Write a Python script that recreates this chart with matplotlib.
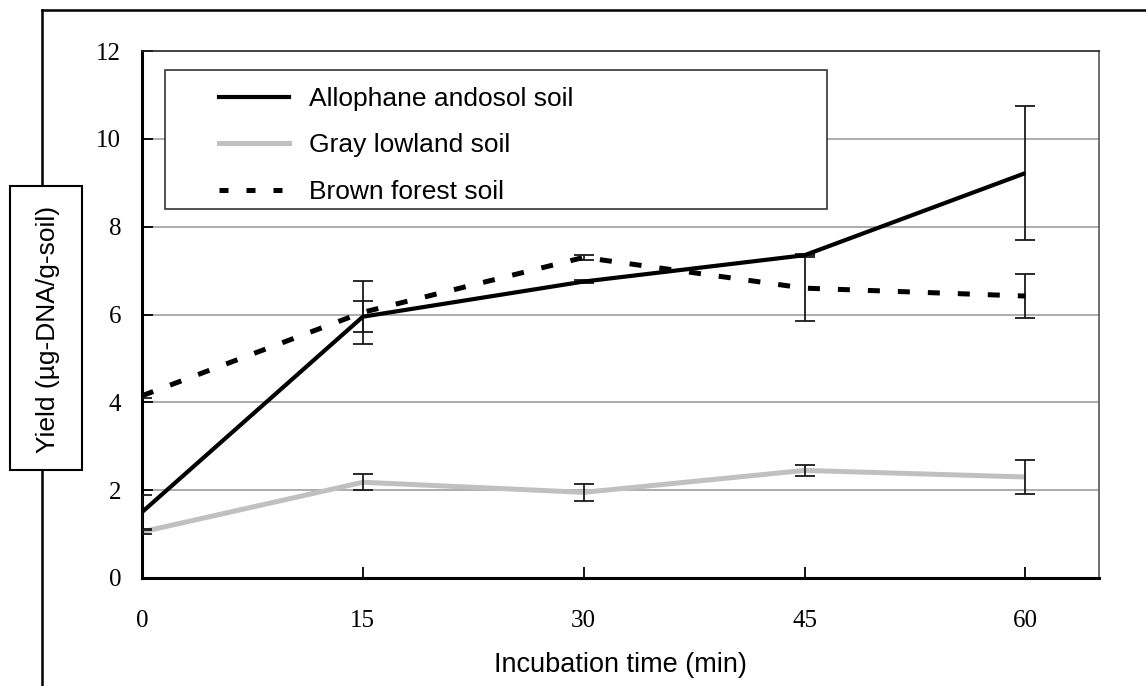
import matplotlib
matplotlib.use("Agg")
import matplotlib.pyplot as plt
from matplotlib.lines import Line2D
from matplotlib.patches import Rectangle

# incubation time (min) and DNA yield (ug-DNA/g-soil)
time_min = [0, 15, 30, 45, 60]

allophane = [1.5, 5.95, 6.75, 7.35, 9.22]
allophane_err = [0.38, 0.35, 0.03, 0.03, 1.53]

gray_lowland = [1.05, 2.18, 1.95, 2.45, 2.3]
gray_lowland_err = [0.05, 0.18, 0.2, 0.12, 0.38]

brown_forest = [4.15, 6.05, 7.3, 6.6, 6.42]
brown_forest_err = [0.05, 0.72, 0.05, 0.75, 0.51]

labels = ["Allophane andosol soil", "Gray lowland soil", "Brown forest soil"]
x_ticks = [0, 15, 30, 45, 60]
y_ticks = [0, 2, 4, 6, 8, 10, 12]

W, H = 1146, 686
fig = plt.figure(figsize=(W / 100, H / 100), dpi=100)
ax = fig.add_axes([142 / W, 1 - 578 / H, (1099 - 142) / W, (578 - 51) / H])

sans = "Liberation Sans"
serif = "Liberation Serif"

# horizontal grid
for y in y_ticks[1:-1]:
    ax.axhline(y, color="#a6a6a6", lw=1.3, zorder=1)

# error bars
for vals, errs in [(allophane, allophane_err), (gray_lowland, gray_lowland_err),
                   (brown_forest, brown_forest_err)]:
    ax.errorbar(time_min, vals, yerr=errs, fmt="none", ecolor="#1a1a1a",
                elinewidth=1.3, capsize=7, capthick=1.3, zorder=3)

l1, = ax.plot(time_min, allophane, color="black", lw=3.0, zorder=4,
              solid_capstyle="butt")
l2, = ax.plot(time_min, gray_lowland, color="#c0c0c0", lw=3.6, zorder=2,
              solid_capstyle="butt")
l3, = ax.plot(time_min, brown_forest, color="black", lw=3.6, zorder=4,
              dashes=(2.4, 3.6))

ax.set_xlim(0, 65)
ax.set_ylim(0, 12)
ax.set_xticks(x_ticks)
ax.set_yticks(y_ticks)
ax.tick_params(axis="both", direction="in", length=8, width=1.3, color="black",
               labelsize=18)
ax.tick_params(axis="x", pad=23)
ax.tick_params(axis="y", pad=15)
for lab in ax.get_xticklabels() + ax.get_yticklabels():
    lab.set_fontfamily(serif)

ax.spines["left"].set_linewidth(2.2)
ax.spines["bottom"].set_linewidth(2.2)
ax.spines["top"].set_linewidth(1.2)
ax.spines["top"].set_color("#222222")
ax.spines["right"].set_linewidth(1.2)
ax.spines["right"].set_color("#555555")

ax.set_xlabel("Incubation time (min)", fontfamily=sans, fontsize=19.5)
ax.xaxis.set_label_coords(0.5, -0.14)

# legend box
ax.add_patch(Rectangle((23 / 957, 1 - (209 - 51) / 527), (827 - 165) / 957,
                       (209 - 70) / 527, transform=ax.transAxes,
                       facecolor="white", edgecolor="#333333", lw=1.2, zorder=5))
handles = [Line2D([], [], color="black", lw=3.0),
           Line2D([], [], color="#c0c0c0", lw=3.6),
           Line2D([], [], color="black", lw=3.6, dashes=(1.8, 3.6))]
leg = ax.legend(handles, labels, loc="upper left",
                bbox_to_anchor=(77 / 957, 1 - (87 - 51) / 527), frameon=False,
                prop={"family": sans, "size": 19}, handlelength=2.65,
                handletextpad=0.75, labelspacing=0.85, borderpad=0,
                borderaxespad=0)
leg.set_zorder(6)

# outer frame lines (cropped box)
fig.add_artist(Line2D([42 / W, 1], [1 - 10 / H, 1 - 10 / H], color="black",
                      lw=1.8, transform=fig.transFigure))
fig.add_artist(Line2D([42 / W, 42 / W], [0, 1 - 10 / H], color="black",
                      lw=1.8, transform=fig.transFigure))

# boxed y label
fig.add_artist(Rectangle((10 / W, 1 - 470 / H), 72 / W, (470 - 186) / H,
                         transform=fig.transFigure, facecolor="white",
                         edgecolor="black", lw=1.5, zorder=3))
fig.text(48 / W, 1 - 329 / H, "Yield (µg-DNA/g-soil)", rotation=90,
         ha="center", va="center", fontfamily=sans, fontsize=19, zorder=4)

fig.savefig("out.png", dpi=100)
